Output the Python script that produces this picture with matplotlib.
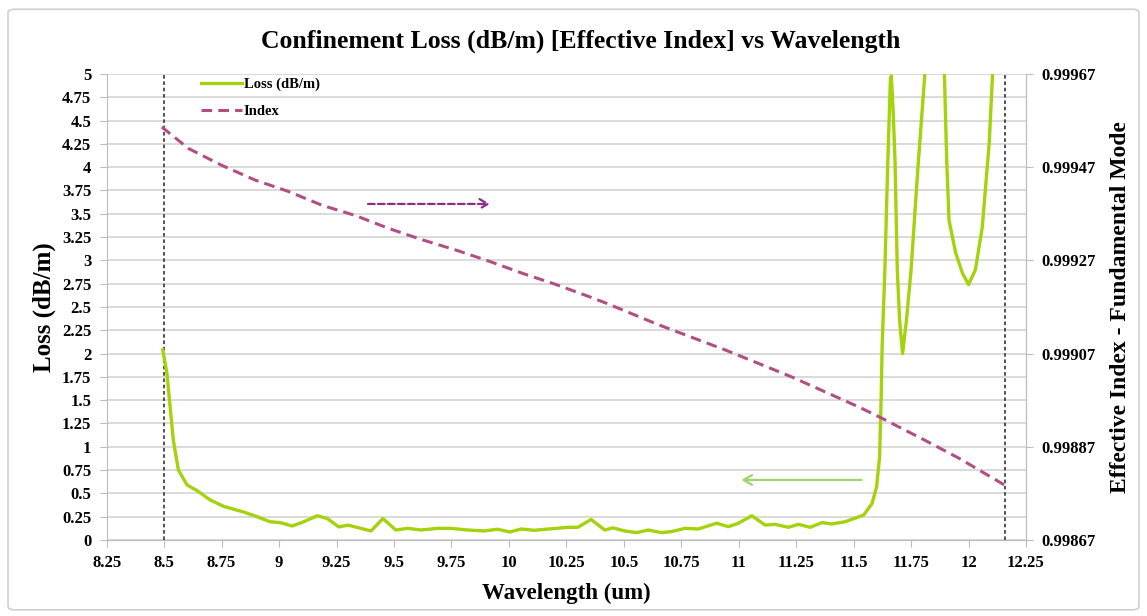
import numpy as np
import matplotlib
matplotlib.use("Agg")
import matplotlib.pyplot as plt
from matplotlib.ticker import FixedLocator, FormatStrFormatter
from matplotlib.patches import FancyBboxPatch

# ==== DATA ====
loss_wl = [8.494, 8.512, 8.526, 8.54, 8.562, 8.6, 8.643, 8.70, 8.76, 8.846, 8.904,
           8.96, 9.006, 9.057, 9.108, 9.166, 9.21, 9.26, 9.30, 9.355, 9.40, 9.452,
           9.508, 9.56, 9.617, 9.69, 9.748, 9.82, 9.893, 9.95, 10.005, 10.053,
           10.11, 10.184, 10.257, 10.30, 10.358, 10.417, 10.453, 10.504, 10.555,
           10.606, 10.664, 10.708, 10.766, 10.824, 10.904, 10.955, 10.999, 11.057,
           11.115, 11.158, 11.217, 11.26, 11.311, 11.362, 11.406, 11.464, 11.544,
           11.58, 11.60, 11.613, 11.62, 11.624, 11.636, 11.649, 11.66, 11.664,
           11.672, 11.68, 11.69, 11.70, 11.713, 11.73, 11.75, 11.78, 11.81, 11.85,
           11.895, 11.905, 11.915, 11.944, 11.974, 12.0, 12.03, 12.06, 12.09,
           12.104, 12.13]
loss_db = [2.04, 1.79, 1.43, 1.07, 0.75, 0.59, 0.53, 0.43, 0.36, 0.30, 0.25,
           0.196, 0.186, 0.15, 0.196, 0.26, 0.23, 0.14, 0.16, 0.125, 0.097, 0.23,
           0.107, 0.125, 0.107, 0.125, 0.125, 0.107, 0.097, 0.115, 0.086, 0.118,
           0.104, 0.12, 0.136, 0.136, 0.22, 0.107, 0.13, 0.097, 0.079,
           0.107, 0.079, 0.09, 0.125, 0.118, 0.18, 0.143, 0.18, 0.26,
           0.16, 0.168, 0.136, 0.168, 0.136, 0.186, 0.172, 0.196, 0.268,
           0.39, 0.57, 0.89, 1.54, 2.07, 2.90, 4.08, 4.94, 4.98,
           4.6, 4.08, 2.9, 2.36, 2.0, 2.36, 2.9, 4.0, 5.0, 6.5,
           5.0, 4.08, 3.43, 3.08, 2.86, 2.74, 2.90, 3.36, 4.26,
           4.97, 6.5]

index_wl = [8.49, 8.606, 8.75, 8.897, 9.04, 9.188, 9.333, 9.48, 9.624, 9.77, 9.915,
            10.06, 10.206, 10.35, 10.424, 10.65, 10.94, 11.23, 11.52, 11.62, 11.81,
            11.96, 12.17]
index_val = [0.999556, 0.99951, 0.999474, 0.999442, 0.999418, 0.999388, 0.999366,
             0.999338, 0.999314, 0.999292, 0.999268, 0.999242, 0.999218, 0.999192,
             0.999178, 0.999132, 0.999078, 0.99902, 0.998956, 0.998932, 0.998884,
             0.998845, 0.998784]

x_ticks = [8.25, 8.5, 8.75, 9, 9.25, 9.5, 9.75, 10, 10.25, 10.5, 10.75, 11, 11.25,
           11.5, 11.75, 12, 12.25]
x_labels = ["8.25", "8.5", "8.75", "9", "9.25", "9.5", "9.75", "10", "10.25", "10.5",
            "10.75", "11", "11.25", "11.5", "11.75", "12", "12.25"]
loss_ticks = [0, 0.25, 0.5, 0.75, 1, 1.25, 1.5, 1.75, 2, 2.25, 2.5, 2.75, 3, 3.25,
              3.5, 3.75, 4, 4.25, 4.5, 4.75, 5]
loss_labels = ["0", "0.25", "0.5", "0.75", "1", "1.25", "1.5", "1.75", "2", "2.25",
               "2.5", "2.75", "3", "3.25", "3.5", "3.75", "4", "4.25", "4.5", "4.75", "5"]
index_ticks = [0.99867, 0.99887, 0.99907, 0.99927, 0.99947, 0.99967]
window_wl = [8.5, 12.16]

# ==== STYLE ====
plt.rcParams["font.family"] = ["Liberation Serif", "DejaVu Serif"]
plt.rcParams["font.weight"] = "bold"
GREEN = "#a4d20c"
MAUVE = "#b24f82"
GRID = "#d4d4d4"

fig = plt.figure(figsize=(11.47, 6.16), dpi=100)
ax = fig.add_axes([0.093, 0.1234, 0.8015, 0.7566])
ax2 = ax.twinx()

# outer chart border
fig.patches.append(FancyBboxPatch((0.007, 0.01), 0.986, 0.975,
                                  boxstyle="round,pad=0,rounding_size=0.006",
                                  transform=fig.transFigure, fill=False,
                                  edgecolor="#d0d0d0", linewidth=1.2))

# ==== LEFT AXIS: LOSS ====
ax.plot(loss_wl, loss_db, color=GREEN, linewidth=2.4, label="Loss (dB/m)", zorder=4,
        solid_joinstyle="round")
ax.set_xlim(8.25, 12.25)
ax.set_ylim(0, 5)
ax.xaxis.set_major_locator(FixedLocator(x_ticks))
ax.set_xticklabels(x_labels)
ax.yaxis.set_major_locator(FixedLocator(loss_ticks))
ax.set_yticklabels(loss_labels)
ax.grid(axis="y", color=GRID, linewidth=1.2, zorder=0)
ax.set_axisbelow(True)
for w in window_wl:
    ax.axvline(w, color="#444444", linestyle=(0, (2, 1.5)), linewidth=1.3, zorder=3)

ax.spines["top"].set_visible(False)
for side in ["left", "bottom", "right"]:
    ax.spines[side].set_color("#bcbcbc")
ax.tick_params(axis="both", direction="out", length=5, color="#bcbcbc", labelsize=12,
               pad=6)
ax.set_ylabel("Loss (dB/m)", fontsize=18, fontweight="bold", labelpad=4)
ax.set_xlabel("Wavelength (um)", fontsize=16.5, fontweight="bold", labelpad=8)

# ==== RIGHT AXIS: EFFECTIVE INDEX ====
ax2.plot(index_wl, index_val, color=MAUVE, linewidth=2.2, linestyle=(0, (3.5, 2)),
         label="Index", zorder=3)
ax2.set_ylim(0.99867, 0.99967)
ax2.yaxis.set_major_locator(FixedLocator(index_ticks))
ax2.yaxis.set_major_formatter(FormatStrFormatter("%.5f"))
for side in ["top", "left", "bottom"]:
    ax2.spines[side].set_visible(False)
ax2.spines["right"].set_color("#bcbcbc")
ax2.tick_params(axis="y", direction="out", length=5, color="#bcbcbc", labelsize=12,
                pad=6)
ax2.set_ylabel("Effective Index - Fundamental Mode", fontsize=17, fontweight="bold",
               labelpad=10)

# direction arrows
ax.annotate("", xy=(9.93, 3.605), xytext=(9.375, 3.605),
            arrowprops=dict(arrowstyle="->,head_length=0.6,head_width=0.35",
                            color="#8b2c8b", linewidth=1.6, linestyle=(0, (3, 1.5))),
            zorder=5)
ax.annotate("", xy=(11.0, 0.644), xytext=(11.546, 0.644),
            arrowprops=dict(arrowstyle="->,head_length=0.6,head_width=0.35",
                            color="#9ed46a", linewidth=1.6), zorder=5)

# legend
h1, l1 = ax.get_legend_handles_labels()
h2, l2 = ax2.get_legend_handles_labels()
leg = ax2.legend(h1 + h2, l1 + l2, loc="upper left", bbox_to_anchor=(0.088, 1.02),
                 frameon=False, fontsize=10.5, handlelength=2.8, handletextpad=0.15,
                 labelspacing=0.95)
for t in leg.get_texts():
    t.set_fontweight("bold")

fig.text(0.506, 0.933, "Confinement Loss (dB/m) [Effective Index] vs Wavelength",
         ha="center", va="center", fontsize=18.5, fontweight="bold")

fig.savefig("out.png", dpi=100)
